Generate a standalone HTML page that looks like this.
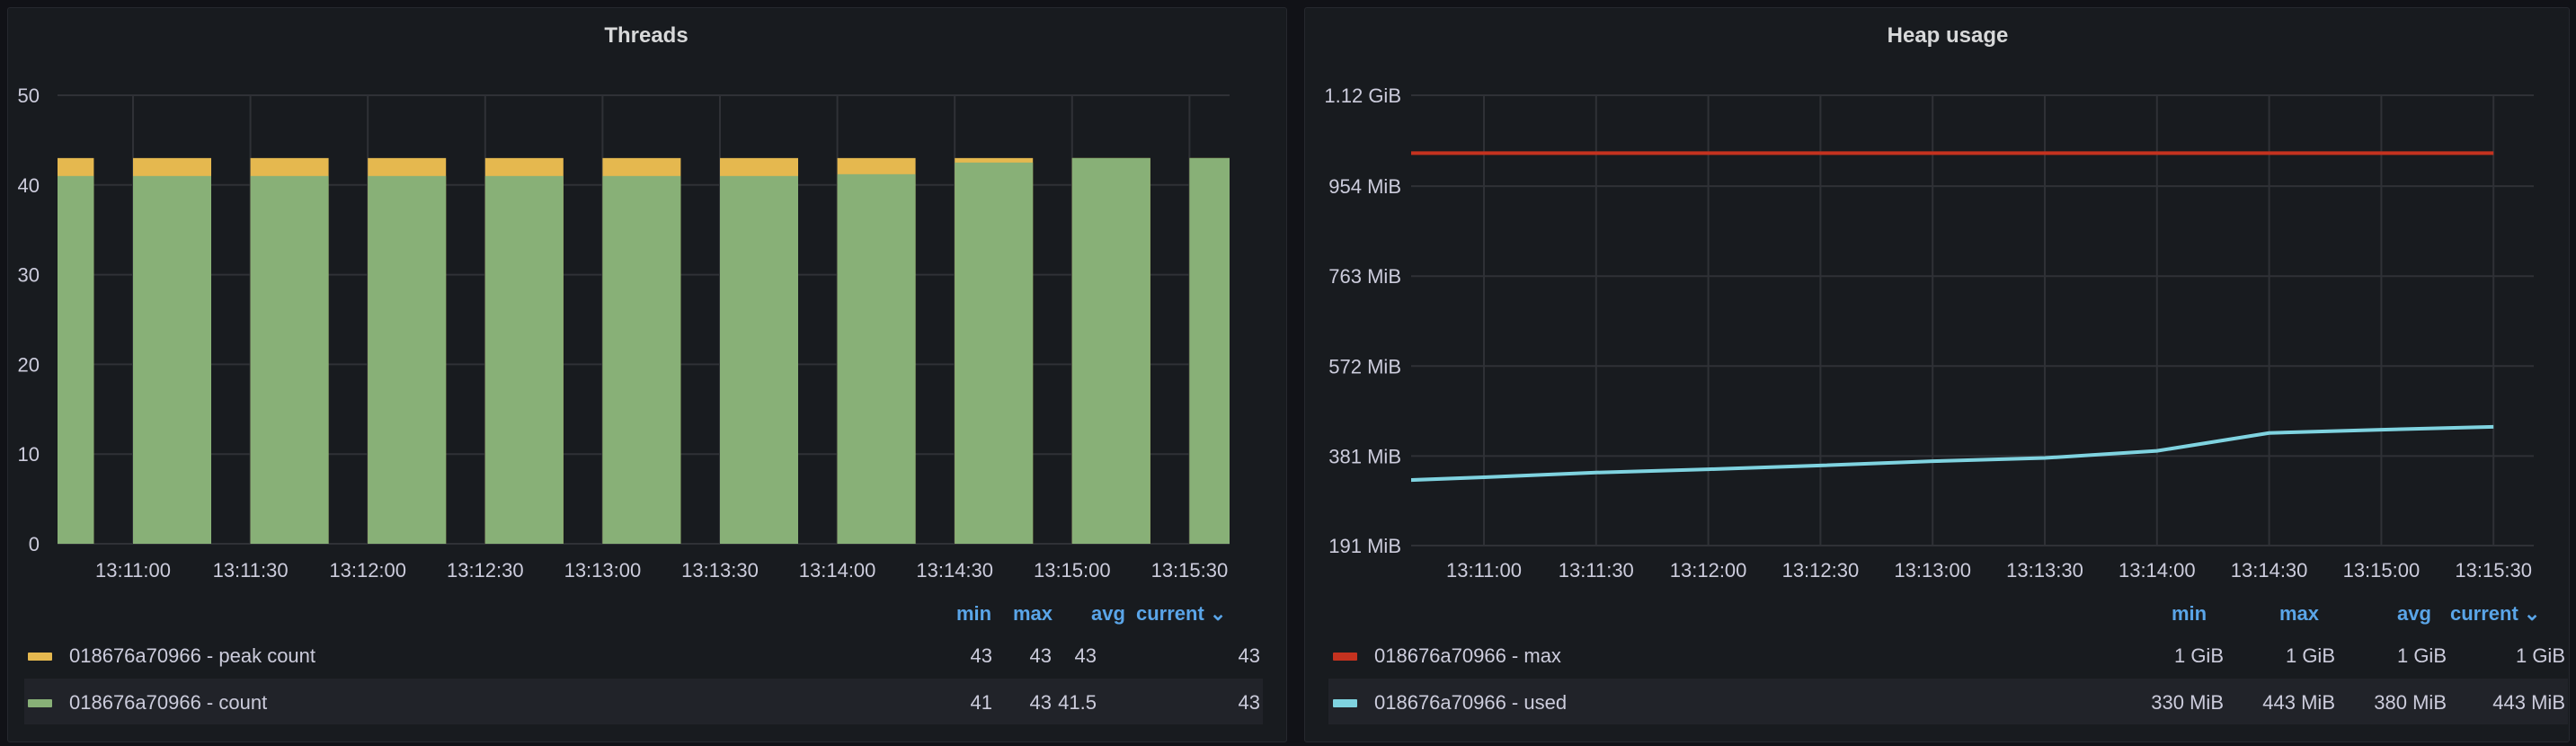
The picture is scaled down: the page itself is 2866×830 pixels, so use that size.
<!DOCTYPE html>
<html><head><meta charset="utf-8">
<style>
html,body{margin:0;padding:0;background:#111217;width:2866px;height:830px;overflow:hidden;font-family:"Liberation Sans",sans-serif;}
.panel{position:absolute;top:8px;height:816px;background:#181b1f;border:1px solid #26282e;border-radius:3px;}
svg{position:absolute;left:0;top:0;}
</style></head><body>
<div class="panel" style="left:8px;width:1422px;"></div>
<div class="panel" style="left:1451px;width:1406px;"></div>
<svg id="chart" width="2866" height="830"></svg>
<script>
// Threads data
const threadTimes = [-30,0,30,60,90,120,150,180,210,240,270]; // seconds from 13:11:00
const threadPeak = [43,43,43,43,43,43,43,43,43,43,43];
const threadCount = [41,41,41,41,41,41,41,41.2,42.5,43,43];
const threadYTicks = [0,10,20,30,40,50];
const timeTickLabels = ["13:11:00","13:11:30","13:12:00","13:12:30","13:13:00","13:13:30","13:14:00","13:14:30","13:15:00","13:15:30"];
const timeTickSecs = [0,30,60,90,120,150,180,210,240,270];
// Heap data (MiB)
const heapTimes = [-20,0,30,60,90,120,150,180,210,240,270];
const heapMax = [1024,1024,1024,1024,1024,1024,1024,1024,1024,1024,1024];
const heapUsed = [330,336,346,353,361,370,377,392,430,437,443];
const heapYTicks = [191,381,572,763,954,1146.88];
const heapYLabels = ["191 MiB","381 MiB","572 MiB","763 MiB","954 MiB","1.12 GiB"];

const NS="http://www.w3.org/2000/svg";
const svg=document.getElementById('chart');
function mk(tag,attrs,parent){const e=document.createElementNS(NS,tag);for(const k in attrs)e.setAttribute(k,attrs[k]);(parent||svg).appendChild(e);return e;}
function txt(x,y,s,attrs){const t=mk('text',Object.assign({x:x,y:y,fill:'#ccccdc','font-size':22,'font-family':'Liberation Sans, sans-serif'},attrs||{}));t.textContent=s;return t;}

// ---------- Threads ----------
const tx0=64,tx1=1368,ty0=605,ty1=106;
const txs=s=>148+s*(130.6/30);
const tys=v=>ty0-(v/50)*(ty0-ty1);
let t=txt(719,47,"Threads",{'text-anchor':'middle','font-weight':'bold','font-size':24,fill:'#d8d9da'});


mk('defs',{}).innerHTML='<clipPath id="tclip"><rect x="64" y="0" width="1304" height="830"/></clipPath><clipPath id="hclip"><rect x="1570" y="0" width="1249" height="830"/></clipPath>';
threadYTicks.forEach(v=>{
  const g=mk('line',{x1:tx0,x2:tx1,y1:tys(v),y2:tys(v),stroke:'#2f3136','stroke-width':2});
  
  
  const l=txt(44,tys(v)+8,String(v),{'text-anchor':'end'});
  
  
});
timeTickSecs.forEach((s,i)=>{
  const g=mk('line',{x1:txs(s),x2:txs(s),y1:ty1,y2:ty0,stroke:'#2f3136','stroke-width':2});
  
  
  const l=txt(txs(s),642,timeTickLabels[i],{'text-anchor':'middle'});
  
  
});
const bw=87;
const tg=mk('g',{'clip-path':'url(#tclip)'});
threadTimes.forEach((s,i)=>{
  const x=txs(s);
  const p=mk('rect',{x:x,y:tys(threadPeak[i]),width:bw,height:ty0-tys(threadPeak[i]),fill:'#e5b84f'},tg);
  
  
  const c=mk('rect',{x:x,y:tys(threadCount[i]),width:bw,height:ty0-tys(threadCount[i]),fill:'#88b077'},tg);
  
  
});

// ---------- Heap ----------
const hx0=1570,hx1=2819,hy0=607,hy1=106;
const hxs=s=>1651+s*(124.8/30);
const hys=v=>hy0-((v-191)/(1146.88-191))*(hy0-hy1);
t=txt(2167,47,"Heap usage",{'text-anchor':'middle','font-weight':'bold','font-size':24,fill:'#d8d9da'});


heapYTicks.forEach((v,i)=>{
  const g=mk('line',{x1:hx0,x2:hx1,y1:hys(v),y2:hys(v),stroke:'#2f3136','stroke-width':2});
  
  
  const l=txt(1559,hys(v)+8,heapYLabels[i],{'text-anchor':'end'});
  
  
});
timeTickSecs.forEach((s,i)=>{
  const g=mk('line',{x1:hxs(s),x2:hxs(s),y1:hy1,y2:hy0,stroke:'#2f3136','stroke-width':2});
  
  
  const l=txt(hxs(s),642,timeTickLabels[i],{'text-anchor':'middle'});
  
  
});
const hg=mk('g',{'clip-path':'url(#hclip)'});
let pm=mk('polyline',{points:heapTimes.map((s,i)=>hxs(s)+','+hys(heapMax[i])).join(' '),fill:'none',stroke:'#c4321f','stroke-width':4},hg);


let pu=mk('polyline',{points:heapTimes.map((s,i)=>hxs(s)+','+hys(heapUsed[i])).join(' '),fill:'none',stroke:'#7fd3e0','stroke-width':4},hg);



// ---------- Legends ----------
function legend(opts){
  const band=mk('rect',{x:opts.bandX,y:755,width:opts.bandW,height:51,fill:'#212329'});
  
  
  const hdr=["min","max","avg","current"];
  hdr.forEach((h,i)=>{
    const l=txt(opts.hdrX[i],690,h+(i==3?' ⌄':''),{fill:'#5aa5e8','font-weight':'bold','text-anchor':'start'});
    
    
  });
  opts.rows.forEach((r,ri)=>{
    const y=[729,781][ri];
    const sw=mk('rect',{x:opts.swX,y:y-3,width:27,height:9,fill:r.color,rx:1});
    
    
    const n=txt(opts.swX+46,y+8,r.name,{});
    
    
    r.vals.forEach((v,i)=>{
      const c=txt(opts.colR[i],y+8,v,{'text-anchor':'end'});
      
      
    });
  });
}
legend({bandX:27,bandW:1378,swX:31,hdrX:[1064,1127,1214,1264],colR:[1104,1170,1220,1402],
  rows:[{color:'#e5b84f',name:'018676a70966 - peak count',vals:['43','43','43','43']},
        {color:'#88b077',name:'018676a70966 - count',vals:['41','43','41.5','43']}]});
legend({bandX:1478,bandW:1379,swX:1483,hdrX:[2416,2536,2667,2726],colR:[2474,2598,2722,2854],
  rows:[{color:'#c4321f',name:'018676a70966 - max',vals:['1 GiB','1 GiB','1 GiB','1 GiB']},
        {color:'#7fd3e0',name:'018676a70966 - used',vals:['330 MiB','443 MiB','380 MiB','443 MiB']}]});
</script>
</body></html>
